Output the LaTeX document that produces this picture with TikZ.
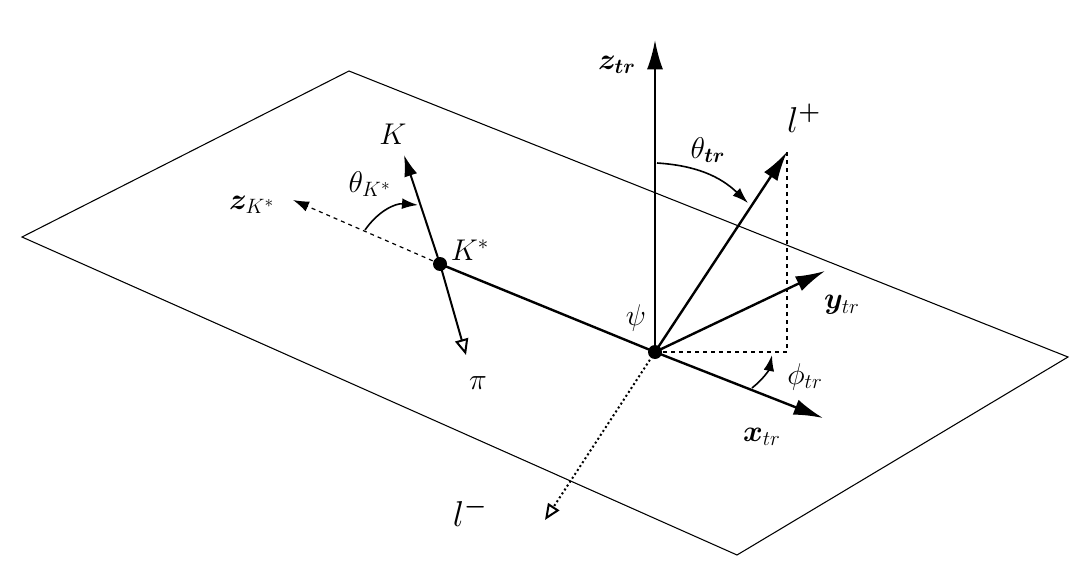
\documentclass[tikz,border=0pt]{standalone}
\usetikzlibrary{arrows.meta}
\usetikzlibrary{calc}
\usepackage{bm}
\usepackage{xcolor}
\begin{document}
\begin{tikzpicture}[x=0.75pt,y=-0.75pt,
    vec/.style={line width=1.8pt,-{Latex[length=22pt,width=12pt]}},
    open/.style={line width=1.5pt,-{Triangle[open,length=12pt,width=10pt]}},
    ang/.style={line width=1.2pt,-{Latex[length=12pt,width=8pt]}},
    lab/.style={font=\LARGE,scale=1.3}]
      \useasboundingbox (0,0) rectangle (1081,581);

      % Plane
      \draw[line width=0.8pt] (22,237) -- (349,71) -- (1068,357) -- (737,555) -- cycle;

      % Points
      \coordinate (O) at (655,352);
      \coordinate (Ks) at (440,264);
      \coordinate (lp) at (787,152);
      \coordinate (foot) at (787,352);

      % Transversity frame
      \draw[vec] (O) -- (655,40);
      \draw[vec] (O) -- (lp);
      \draw[vec] (O) -- (825,271);
      \draw[vec] (O) -- (823,418);
      \draw[open,dotted] (O) -- (545,520);
      \draw[dashed,line width=0.9pt] (O) -- (foot) -- (lp);

      % K* decay
      \draw[line width=1.8pt] (O) -- (Ks);
      \draw[line width=1.5pt,-{Latex[length=16pt,width=10pt]}] (Ks) -- (404,155);
      \draw[open] (Ks) -- (466,355);
      \draw[dashed,line width=0.9pt,-{Latex[length=12pt,width=8pt]}] (Ks) -- (293,200);

      % Angles
      \draw[ang] (365,230) to[bend left=30] (418,205);
      \draw[ang] (657,163) to[bend left=20] (748,203);
      \draw[ang] (752,388) to[bend right=20] (772,355);

      \fill (O) circle (7);
      \fill (Ks) circle (7);

      % Labels
      \node[lab] (zt) at (617,65) {$\bm{z}_{\bm{tr}}$};
      \node[lab] (tt) at (708,150) {$\theta_{\bm{tr}}$};
      \node[lab] (lplab) at (804,118) {\huge$l^{\bm{+}}$};
      \node[lab] (yt) at (842,305) {$\bm{y}_{tr}$};
      \node[lab] (pt) at (805,377) {$\phi_{tr}$};
      \node[lab] (xt) at (762,437) {$\bm{x}_{tr}$};
      \node[lab] (psi) at (636,318) {$\psi$};
      \node[lab] (lm) at (470,512) {\huge$l^{\bm{-}}$};
      \node[lab] (K) at (393,134) {$K$};
      \node[lab] (tk) at (370,184) {$\theta_{K^*}$};
      \node[lab] (zk) at (252,205) {$\bm{z}_{K^*}$};
      \node[lab] (Kst) at (470,250) {$K^*$};
      \node[lab] (pi) at (478,383) {$\pi$};
\end{tikzpicture}
\end{document}
